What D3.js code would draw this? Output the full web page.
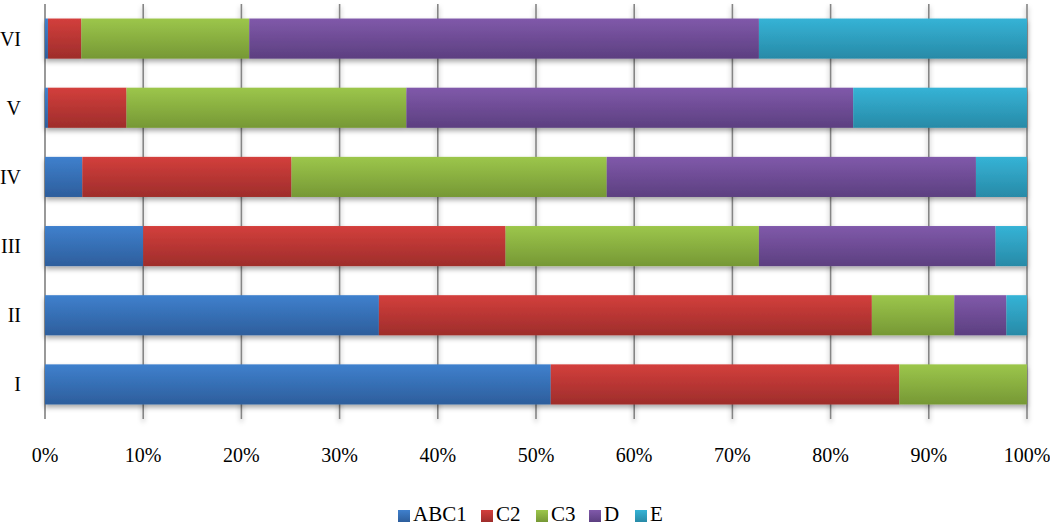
<!DOCTYPE html>
<html><head><meta charset="utf-8">
<script src="https://cdn.jsdelivr.net/npm/d3@7"></script>
<style>body{margin:0;background:#fff}svg{display:block}text{font-family:"Liberation Serif","Times New Roman",serif;fill:#000}</style>
</head><body><svg id="c" width="1050" height="525"></svg>
<script>
const categories = ["VI","V","IV","III","II","I"];
const seriesNames = ["ABC1","C2","C3","D","E"];
const ABC1 = [0.3, 0.3, 3.8, 10.0, 34.0, 51.5];
const C2   = [3.4, 8.0, 21.3, 36.9, 50.2, 35.5];
const C3   = [17.1, 28.5, 32.1, 25.8, 8.4, 13.0];
const D    = [51.9, 45.5, 37.6, 24.1, 5.3, 0];
const E    = [27.3, 17.7, 5.2, 3.2, 2.1, 0];
const tickValues = [0,10,20,30,40,50,60,70,80,90,100];
const colorsTop = ["#3f80cd","#d33f3c","#9cc64b","#8059aa","#35b3d6"];
const colorsBot = ["#2d5e9c","#9e2d2b","#769835","#5c3f80","#288aa7"];

const svg = d3.select("#c");
const L=45, R=1027, T=4, B=419;
const x = d3.scaleLinear().domain([0,100]).range([L,R]);
const y = d3.scaleBand().domain(categories).range([T,B]).paddingInner(0.42).paddingOuter(0.21);

const defs = svg.append("defs");
seriesNames.forEach((s,i)=>{
  const g = defs.append("linearGradient").attr("id","g"+i).attr("x1",0).attr("y1",0).attr("x2",0).attr("y2",1);
  g.append("stop").attr("offset","0%").attr("stop-color",colorsTop[i]);
  g.append("stop").attr("offset","100%").attr("stop-color",colorsBot[i]);
});
const sh = defs.append("filter").attr("id","sh").attr("x","-5%").attr("y","-20%").attr("width","110%").attr("height","160%");
sh.append("feDropShadow").attr("dx",0).attr("dy",3).attr("stdDeviation",2.5).attr("flood-color","#000").attr("flood-opacity",0.35);

// gridlines
const gl = svg.append("g").attr("filter","url(#sh)");
gl.selectAll("line").data(tickValues.slice(1)).join("line")
  .attr("x1",d=>x(d)).attr("x2",d=>x(d)).attr("y1",T).attr("y2",B)
  .attr("stroke","#858585").attr("stroke-width",1.6);
// axes lines
svg.append("line").attr("x1",L).attr("x2",L).attr("y1",T).attr("y2",B).attr("stroke","#808080").attr("stroke-width",1.6);
svg.append("line").attr("x1",L).attr("x2",R).attr("y1",B).attr("y2",B).attr("stroke","#808080").attr("stroke-width",1.6).attr("filter","url(#sh)");

const data = [ABC1,C2,C3,D,E];
const stacked = categories.map((c,ci)=>{
  let acc=0;
  return data.map((arr,si)=>{const v0=acc; acc+=arr[ci]; return {c, si, v0, v1:acc};});
});
const barsG = svg.append("g");
categories.forEach((c,ci)=>{
  const g = barsG.append("g").attr("filter","url(#sh)");
  g.selectAll("rect").data(stacked[ci].filter(d=>d.v1>d.v0)).join("rect")
    .attr("x",d=>x(d.v0)).attr("width",d=>x(d.v1)-x(d.v0))
    .attr("y",y(c)).attr("height",y.bandwidth())
    .attr("fill",d=>`url(#g${d.si})`);
});

// y labels
svg.selectAll(".yl").data(categories).join("text")
  .attr("x",21).attr("y",d=>y(d)+y.bandwidth()/2).attr("dy","0.35em")
  .attr("text-anchor","end").attr("font-size",20).text(d=>d);
// x ticks
svg.selectAll(".xl").data(tickValues).join("text")
  .attr("x",d=>x(d)).attr("y",462).attr("text-anchor","middle").attr("font-size",20)
  .text(d=>d3.format("d")(d)+"%");

// legend
const legX=[398,481,536,589,635];
const lg = svg.append("g");
seriesNames.forEach((s,i)=>{
  const item = lg.append("g").attr("transform",`translate(${legX[i]},0)`);
  item.append("rect").attr("x",0).attr("y",510).attr("width",12).attr("height",12).attr("fill",`url(#g${i})`);
  item.append("text").attr("x",15).attr("y",521).attr("font-size",21).text(s);
});
</script></body></html>
